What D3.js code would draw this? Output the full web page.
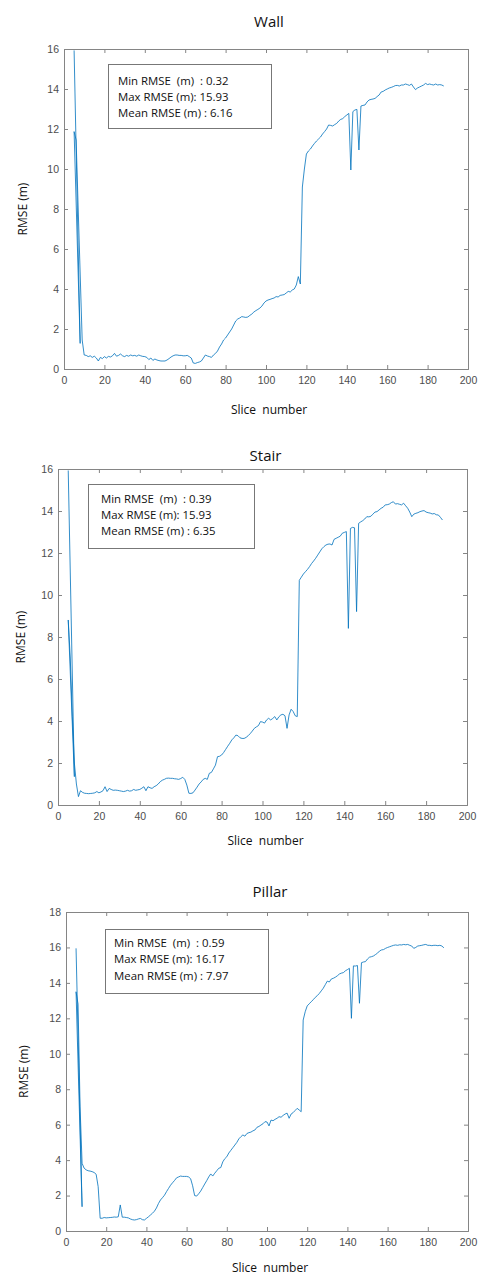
<!DOCTYPE html>
<html>
<head>
<meta charset="utf-8">
<script src="https://cdn.jsdelivr.net/npm/d3@7"></script>
<style>
  body { margin: 0; background: #fff; }
  text { white-space: pre; }
  .tick-label { font-family: "Liberation Sans", Arial, sans-serif; font-size: 10.5px; fill: #4d4d4d; }
  .title, .axis-label, .stat { font-family: "Open Sans", "Noto Sans", sans-serif; fill: #111; }
  .title { font-size: 15px; }
  .axis-label { font-size: 12px; }
  .stat { font-size: 11.4px; }
</style>
</head>
<body>
<div id="wrapper"></div>
<script>
// data: slice number -> RMSE (m)
// the first few points are out of order, that is how the traces start in the picture

const wallSlices = [5, 8, 5, 6, ...d3.range(9, 189)]
const wallRmse = [15.93, 1.28, 11.87, 11.45,
  1.45, 0.70, 0.68, 0.62, 0.66, 0.58, 0.64, 0.55, 0.40, 0.58,
  0.52, 0.62, 0.55, 0.63, 0.60, 0.66, 0.78, 0.64, 0.68, 0.75,
  0.66, 0.62, 0.68, 0.64, 0.70, 0.66, 0.68, 0.64, 0.70, 0.66,
  0.63, 0.62, 0.58, 0.47, 0.55, 0.43, 0.50, 0.45, 0.42, 0.40,
  0.40, 0.40, 0.45, 0.52, 0.60, 0.66, 0.70, 0.70, 0.68, 0.68,
  0.66, 0.66, 0.68, 0.62, 0.55, 0.30, 0.28, 0.32, 0.35, 0.40,
  0.55, 0.70, 0.65, 0.62, 0.58, 0.70, 0.78, 0.90, 1.10, 1.25,
  1.45, 1.55, 1.70, 1.85, 2.00, 2.20, 2.40, 2.50, 2.55, 2.62,
  2.60, 2.58, 2.60, 2.68, 2.75, 2.85, 2.92, 2.98, 3.05, 3.15,
  3.30, 3.40, 3.45, 3.48, 3.52, 3.55, 3.62, 3.60, 3.68, 3.70,
  3.72, 3.80, 3.88, 3.85, 3.95, 4.00, 4.20, 4.62, 4.25, 9.10,
  10.00, 10.75, 10.90, 11.00, 11.15, 11.28, 11.40, 11.50, 11.60, 11.75,
  11.87, 12.00, 12.20, 12.18, 12.15, 12.22, 12.28, 12.40, 12.48, 12.52,
  12.62, 12.70, 12.78, 9.95, 12.87, 12.95, 12.98, 10.95, 13.15, 13.18,
  13.20, 13.35, 13.45, 13.48, 13.50, 13.53, 13.62, 13.70, 13.85, 13.88,
  13.95, 14.00, 14.05, 14.08, 14.12, 14.17, 14.18, 14.15, 14.20, 14.20,
  14.25, 14.22, 14.18, 14.25, 14.10, 13.97, 14.05, 14.10, 14.15, 14.20,
  14.28, 14.22, 14.25, 14.22, 14.20, 14.25, 14.20, 14.22, 14.20, 14.15]

const stairSlices = [5, 8, 5, 6, 7, 8, ...d3.range(9, 189)]
const stairRmse = [15.93, 1.35, 8.81, 7.0, 4.2, 2.0,
  1.00, 0.40, 0.68, 0.60, 0.56, 0.55, 0.54, 0.55, 0.56, 0.58,
  0.64, 0.58, 0.62, 0.68, 0.87, 0.64, 0.79, 0.74, 0.70, 0.71,
  0.70, 0.68, 0.66, 0.64, 0.66, 0.70, 0.66, 0.68, 0.74, 0.70,
  0.72, 0.74, 0.80, 0.87, 0.68, 0.87, 0.82, 0.79, 0.87, 0.92,
  1.00, 1.11, 1.18, 1.22, 1.27, 1.28, 1.27, 1.27, 1.25, 1.24,
  1.22, 1.26, 1.32, 1.22, 0.95, 0.56, 0.55, 0.58, 0.71, 0.85,
  1.00, 1.10, 1.22, 1.27, 1.22, 1.51, 1.55, 1.72, 1.90, 2.30,
  2.32, 2.38, 2.50, 2.65, 2.80, 2.94, 3.10, 3.20, 3.33, 3.30,
  3.20, 3.17, 3.17, 3.22, 3.30, 3.40, 3.52, 3.65, 3.72, 3.78,
  3.97, 3.95, 3.90, 4.05, 4.13, 4.05, 4.12, 4.21, 4.05, 4.20,
  4.29, 4.32, 4.25, 3.65, 4.29, 4.56, 4.45, 4.25, 4.21, 10.70,
  10.85, 11.00, 11.11, 11.22, 11.35, 11.50, 11.62, 11.75, 11.90, 12.05,
  12.20, 12.30, 12.38, 12.42, 12.43, 12.38, 12.65, 12.70, 12.75, 12.80,
  12.94, 12.98, 13.02, 8.41, 13.17, 13.22, 13.20, 9.21, 13.41, 13.48,
  13.54, 13.62, 13.73, 13.72, 13.75, 13.85, 13.95, 13.97, 14.05, 14.13,
  14.18, 14.29, 14.30, 14.33, 14.40, 14.44, 14.33, 14.35, 14.32, 14.29,
  14.37, 14.25, 14.13, 13.95, 13.73, 13.85, 13.89, 13.92, 13.97, 14.00,
  14.02, 13.95, 13.92, 13.90, 13.86, 13.88, 13.82, 13.81, 13.70, 13.57]

const pillarSlices = [5, 8, 5, 6, 7, 8, ...d3.range(9, 189)]
const pillarRmse = [15.95, 1.37, 13.5, 12.8, 7.0, 3.82,
  3.55, 3.45, 3.40, 3.38, 3.35, 3.30, 3.20, 2.50, 0.72, 0.72,
  0.76, 0.74, 0.75, 0.76, 0.77, 0.79, 0.78, 0.80, 1.47, 0.78,
  0.78, 0.76, 0.74, 0.68, 0.64, 0.62, 0.64, 0.68, 0.71, 0.64,
  0.62, 0.71, 0.80, 0.90, 1.00, 1.12, 1.30, 1.55, 1.75, 1.88,
  2.02, 2.22, 2.40, 2.58, 2.72, 2.85, 3.00, 3.05, 3.10, 3.08,
  3.08, 3.08, 3.05, 2.95, 2.55, 2.00, 1.97, 2.10, 2.25, 2.45,
  2.65, 2.84, 3.05, 3.22, 3.10, 3.26, 3.40, 3.54, 3.58, 3.90,
  4.08, 4.19, 4.40, 4.55, 4.70, 4.85, 5.00, 5.20, 5.32, 5.42,
  5.35, 5.50, 5.55, 5.58, 5.65, 5.70, 5.85, 5.90, 5.98, 6.05,
  6.17, 6.15, 5.93, 6.26, 6.22, 6.30, 6.36, 6.45, 6.42, 6.52,
  6.60, 6.65, 6.36, 6.60, 6.68, 6.80, 6.92, 6.83, 6.73, 11.90,
  12.37, 12.70, 12.82, 12.94, 13.05, 13.18, 13.28, 13.40, 13.55, 13.70,
  13.90, 14.10, 14.05, 14.22, 14.26, 14.32, 14.40, 14.50, 14.55, 14.58,
  14.68, 14.75, 14.82, 12.00, 14.96, 14.95, 14.98, 12.85, 15.14, 15.18,
  15.20, 15.35, 15.45, 15.48, 15.52, 15.60, 15.68, 15.80, 15.86, 15.88,
  15.95, 16.00, 16.04, 16.08, 16.12, 16.14, 16.12, 16.15, 16.14, 16.17,
  16.15, 16.17, 16.12, 16.08, 15.95, 16.00, 16.08, 16.10, 16.12, 16.15,
  16.17, 16.12, 16.12, 16.10, 16.12, 16.12, 16.10, 16.12, 16.08, 15.98]

const xTicks = d3.range(0, 201, 20)
const titles = ["Wall", "Stair", "Pillar"]
const yMaxes = [16, 16, 18]
const statLines = [
  ["Min RMSE  (m)  : 0.32", "Max RMSE (m): 15.93", "Mean RMSE (m) : 6.16"],
  ["Min RMSE  (m)  : 0.39", "Max RMSE (m): 15.93", "Mean RMSE (m) : 6.35"],
  ["Min RMSE  (m)  : 0.59", "Max RMSE (m): 16.17", "Mean RMSE (m) : 7.97"],
]

// layout of each panel, measured on the picture
const panels = [
  { slices: wallSlices, rmse: wallRmse,
    box: { left: 64, right: 468, top: 49, bottom: 369 },
    titleY: 27, xLabelY: 414, yLabelX: 27,
    legend: { x0: 108, y0: 64, x1: 271, y1: 128, textX: 118, lines: [85, 101, 117] } },
  { slices: stairSlices, rmse: stairRmse,
    box: { left: 58, right: 467, top: 469, bottom: 805 },
    titleY: 461, xLabelY: 845, yLabelX: 25,
    legend: { x0: 88, y0: 484, x1: 254, y1: 548, textX: 101, lines: [503, 519, 535] } },
  { slices: pillarSlices, rmse: pillarRmse,
    box: { left: 66, right: 468, top: 912, bottom: 1231 },
    titleY: 897, xLabelY: 1272, yLabelX: 28,
    legend: { x0: 105, y0: 929, x1: 268, y1: 993, textX: 114, lines: [947, 963, 980] } },
]

const width = 480
const height = 1277
const tickLen = 4
const axisColor = "#858585"

const svg = d3.select("#wrapper")
  .append("svg")
  .attr("width", width)
  .attr("height", height)

svg.append("rect")
  .attr("width", width)
  .attr("height", height)
  .attr("fill", "#fff")

panels.forEach((p, i) => drawPanel(p, i))

function drawPanel(p, i) {
  const b = p.box
  const xScale = d3.scaleLinear().domain([0, 200]).range([b.left, b.right])
  const yScale = d3.scaleLinear().domain([0, yMaxes[i]]).range([b.bottom, b.top])
  const yTicks = d3.range(0, yMaxes[i] + 1, 2)

  const g = svg.append("g")

  // bottom + left axes with labels, ticks pointing inward like matlab
  const xAxis = d3.axisBottom(xScale).tickValues(xTicks).tickSize(-tickLen).tickPadding(8)
  const yAxis = d3.axisLeft(yScale).tickValues(yTicks).tickSize(-tickLen).tickPadding(5)
  const xTop = d3.axisTop(xScale).tickValues(xTicks).tickSize(-tickLen).tickFormat("")
  const yRight = d3.axisRight(yScale).tickValues(yTicks).tickSize(-tickLen).tickFormat("")

  const axes = [
    g.append("g").attr("transform", `translate(0,${b.bottom})`).call(xAxis),
    g.append("g").attr("transform", `translate(${b.left},0)`).call(yAxis),
    g.append("g").attr("transform", `translate(0,${b.top})`).call(xTop),
    g.append("g").attr("transform", `translate(${b.right},0)`).call(yRight),
  ]
  axes.forEach(a => {
    a.select(".domain").attr("stroke", axisColor)
    a.selectAll(".tick line").attr("stroke", axisColor)
    a.selectAll(".tick text").attr("class", "tick-label").attr("fill", null)
  })

  // the trace
  const points = p.slices.map((s, k) => ({ s, v: p.rmse[k] }))
  const line = d3.line()
    .defined(d => d.v != null)
    .x(d => xScale(d.s))
    .y(d => yScale(d.v))

  g.append("path")
    .datum(points)
    .attr("fill", "none")
    .attr("stroke", "#0072BD")
    .attr("stroke-opacity", 0.8)
    .attr("stroke-width", 1)
    .attr("stroke-linejoin", "round")
    .attr("d", line)

  // title + axis labels
  const cx = (b.left + b.right) / 2 + 3
  g.append("text")
    .attr("class", "title")
    .attr("x", cx)
    .attr("y", p.titleY)
    .attr("text-anchor", "middle")
    .text(titles[i])

  g.append("text")
    .attr("class", "axis-label")
    .attr("x", cx)
    .attr("y", p.xLabelY)
    .attr("text-anchor", "middle")
    .text("Slice  number")

  g.append("text")
    .attr("class", "axis-label")
    .attr("transform", `translate(${p.yLabelX},${(b.top + b.bottom) / 2}) rotate(-90)`)
    .attr("text-anchor", "middle")
    .text("RMSE (m)")

  // stats box
  const L = p.legend
  g.append("rect")
    .attr("x", L.x0 + 0.5)
    .attr("y", L.y0 + 0.5)
    .attr("width", L.x1 - L.x0)
    .attr("height", L.y1 - L.y0)
    .attr("fill", "#fff")
    .attr("stroke", "#777")
    .attr("stroke-width", 1)

  g.selectAll(".stat")
    .data(statLines[i])
    .join("text")
    .attr("class", "stat")
    .attr("x", L.textX)
    .attr("y", (d, k) => L.lines[k])
    .text(d => d)
}
</script>
</body>
</html>
